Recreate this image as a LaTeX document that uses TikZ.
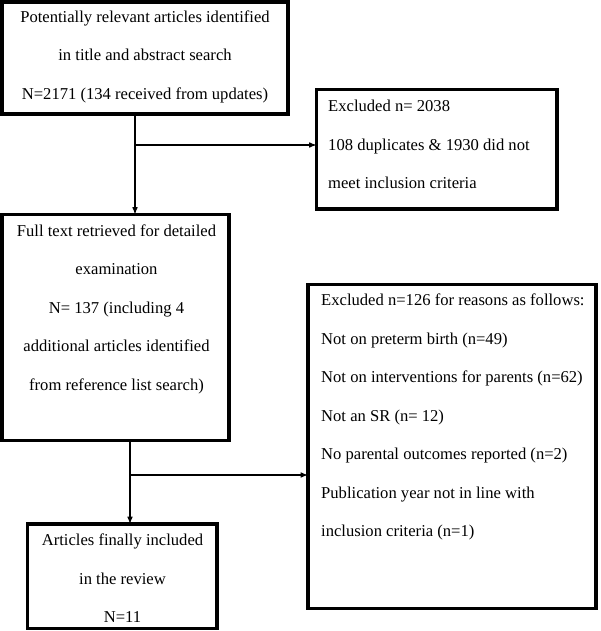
\documentclass[tikz,border=0pt]{standalone}
\usepackage{fontspec}
\setmainfont{Liberation Serif}
\usetikzlibrary{arrows}

\begin{document}
\begin{tikzpicture}[line cap=round,line join=round,>=latex,x=1.0pt,y=-1.0pt]
\tikzset{
  box/.style={draw,rectangle,line width=3.5pt,line cap=rect,line join=miter,inner sep=0pt,outer sep=0pt},
  txt/.style={inner sep=0pt,font=\fontsize{16.6}{38.5}\selectfont},
  flow/.style={->,line width=1.5pt}
}
\useasboundingbox (0,0) rectangle (600,631);
%boxes
\node[box,minimum width=286.25pt,minimum height=112.25pt] (found) at (144.9,57.9) {};
\node[box,minimum width=240.5pt,minimum height=119.5pt] (excl1) at (436.75,149.25) {};
\node[box,minimum width=227.25pt,minimum height=226pt] (fulltext) at (115.4,327.5) {};
\node[box,minimum width=189.5pt,minimum height=104.5pt] (final) at (122.25,576.25) {};
\node[box,minimum width=288pt,minimum height=324pt] (excl2) at (452,446.5) {};
%texts
\node[txt,align=center] (foundtxt) at (145,56.7) {Potentially relevant articles identified\\in title and abstract search\\N=2171 (134 received from updates)};
\node[txt,align=left,anchor=west] (excl1txt) at (328,144.7) {Excluded n= 2038\\108 duplicates \& 1930 did not\\meet inclusion criteria};
\node[txt,align=center] (fulltexttxt) at (116.5,309) {Full text retrieved for detailed\\examination\\N= 137 (including 4\\additional articles identified\\from reference list search)};
\node[txt,align=center] (finaltxt) at (122.5,578.3) {Articles finally included\\in the review\\N=11};
\node[txt,align=left,anchor=west] (excl2txt) at (321,417.2) {Excluded n=126 for reasons as follows:\\Not on preterm birth (n=49)\\Not on interventions for parents (n=62)\\Not an SR (n= 12)\\No parental outcomes reported (n=2)\\Publication year not in line with\\inclusion criteria (n=1)};
%arrows
\coordinate (j1) at (135,145);
\coordinate (j2) at (130,475);
\draw[flow] (j1 |- found.south) -- (j1 |- fulltext.north);
\draw[flow] (j1) -- (j1 -| excl1.west);
\draw[flow] (j2 |- fulltext.south) -- (j2 |- final.north);
\draw[flow] (j2) -- (j2 -| excl2.west);
\end{tikzpicture}
\end{document}
